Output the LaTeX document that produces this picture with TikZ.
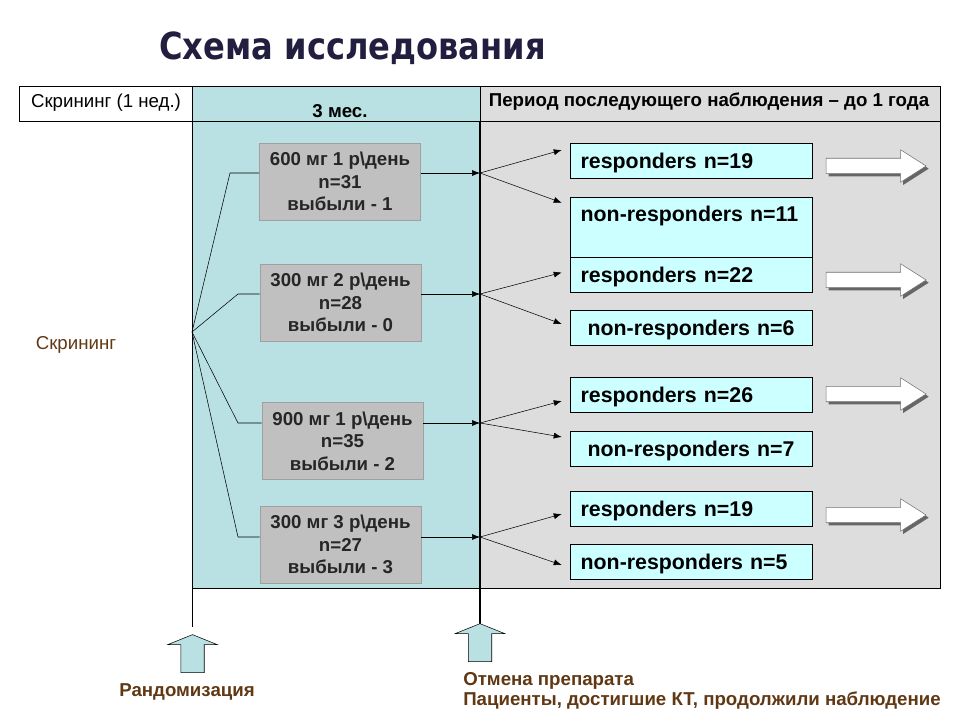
\documentclass[tikz,border=0pt]{standalone}
\usepackage{fontspec}
\setmainfont{Liberation Sans}
\newfontfamily\titlefont{DejaVu Sans}
\usetikzlibrary{arrows.meta,shapes.arrows,shadows,positioning,calc}

\definecolor{tealbg}{RGB}{185,224,227}
\definecolor{panelgray}{RGB}{221,221,221}
\definecolor{dosegray}{RGB}{192,192,192}
\definecolor{doseline}{RGB}{160,160,160}
\definecolor{cyanlt}{RGB}{204,255,255}
\definecolor{brownish}{RGB}{96,56,20}
\definecolor{titleblue}{RGB}{34,30,63}

\begin{document}
\begin{tikzpicture}[x=0.75pt,y=-0.75pt,
	dose/.style={draw=doseline, fill=dosegray, minimum width=120.75pt, minimum height=57.75pt, inner sep=0pt, align=center, text=black!85, font=\fontsize{14}{17}\selectfont\bfseries},
	resp/.style={draw, fill=cyanlt, minimum height=26.25pt, text width=165.5pt, text depth=0pt, inner xsep=8pt, inner ysep=0pt, align=left, font=\fontsize{16}{19.2}\selectfont\bfseries},
	link/.style={-{Latex[length=6pt,width=4.5pt]}},
	fwd/.style={single arrow, draw=black!55, fill=white, minimum height=75pt, inner sep=5.6pt, single arrow head extend=6.4pt, single arrow tip angle=65, drop shadow={shadow xshift=2pt, shadow yshift=-2pt, fill=black!60, opacity=1}},
	uparrow/.style={single arrow, shape border rotate=90, draw, fill=tealbg, minimum height=28.5pt, inner sep=8.6pt, single arrow head extend=9.75pt, single arrow tip angle=136},
	note/.style={text=brownish, font=\fontsize{14}{15}\selectfont\bfseries, inner sep=0pt}]
	%%%%% START %%%%%
	\useasboundingbox (0,0) rectangle (960,720);
	
	\node[anchor=base, text=titleblue, font=\titlefont\fontsize{28}{30}\selectfont\bfseries] (title) at (352.5,60) {\scalebox{0.86}[1]{Схема исследования}};
	
	% backgrounds
	\fill[tealbg] (192,86) rectangle (480,588);
	\fill[panelgray] (480,86) rectangle (940,588);
	\draw (19,86) rectangle (940,121);
	\draw (192,121) rectangle (940,588);
	\draw (192,86) -- (192,627);
	\draw (480,86) -- (480,121);
	\draw[line width=1.5pt] (480,121) -- (480,624);
	
	% header
	\node[font=\fontsize{14}{17}\selectfont] (scrhead) at (106,103) {Скрининг (1 нед.)};
	\node[font=\fontsize{14}{17}\selectfont\bfseries] (months) at (340,111) {3 мес.};
	\node[font=\fontsize{14}{17}\selectfont\bfseries] (follow) at (709,102) {Период последующего наблюдения – до 1 года};
	
	\node[text=brownish, font=\fontsize{14}{17}\selectfont] (scr) at (76,345) {Скрининг};
	
	% dose groups
	\node[dose] (g1) at (340,181.5) {600 мг 1 р\textbackslash день\\n=31\\выбыли - 1};
	\node[dose] (g2) at (340.5,302.5) {300 мг 2 р\textbackslash день\\n=28\\выбыли - 0};
	\node[dose] (g3) at (342.5,441) {900 мг 1 р\textbackslash день\\n=35\\выбыли - 2};
	\node[dose] (g4) at (340.5,544.5) {300 мг 3 р\textbackslash день\\n=27\\выбыли - 3};
	
	% outcomes
	\node[resp] (r1) at (691,161) {responders n=19};
	\node[resp, minimum height=45pt, text depth=20pt] (n1) at (691,227) {non-responders n=11};
	\node[resp] (r2) at (691,274.5) {responders n=22};
	\node[resp, align=center] (n2) at (691,327.5) {non-responders n=6};
	\node[resp] (r3) at (691,395) {responders n=26};
	\node[resp, align=center] (n3) at (691,448.5) {non-responders n=7};
	\node[resp] (r4) at (691,508.5) {responders n=19};
	\node[resp] (n4) at (691,562) {non-responders n=5};
	
	% randomisation fan
	\coordinate (rand) at (192,332);
	\coordinate (e1) at (230,173);
	\coordinate (e2) at (238,294);
	\coordinate (e3) at (238,423);
	\coordinate (e4) at (238,537);
	\coordinate (j1) at (480,173);
	\coordinate (j2) at (480,294);
	\coordinate (j3) at (480,423);
	\coordinate (j4) at (480,537);
	
	\draw (rand) -- (e1) -- (e1 -| g1.west);
	\draw (rand) -- (e2) -- (e2 -| g2.west);
	\draw (rand) -- (e3) -- (e3 -| g3.west);
	\draw (rand) -- (e4) -- (e4 -| g4.west);
	
	\draw[link] (e1 -| g1.east) -- (j1);
	\draw[link] (e2 -| g2.east) -- (j2);
	\draw[link] (e3 -| g3.east) -- (j3);
	\draw[link] (e4 -| g4.east) -- (j4);
	
	\draw[link] (j1) -- ([shift={(-8,-11)}]r1.west);
	\draw[link] (j1) -- ([shift={(-8,6)}]n1.north west);
	\draw[link] (j2) -- ([shift={(-8,-2)}]r2.west);
	\draw[link] (j2) -- ([shift={(-8,-3.5)}]n2.west);
	\draw[link] (j3) -- ([shift={(-8,6)}]r3.west);
	\draw[link] (j3) -- ([shift={(-8,-11.5)}]n3.west);
	\draw[link] (j4) -- ([shift={(-8,5.5)}]r4.west);
	\draw[link] (j4) -- ([shift={(-8,3)}]n4.west);
	
	% onward arrows
	\node[fwd] (f1) at (870,166) {};
	\node[fwd] (f2) at (870,280) {};
	\node[fwd] (f3) at (870,394) {};
	\node[fwd] (f4) at (870,515) {};
	
	% time points
	\node[uparrow] (randarrow) at (192.5,656) {};
	\node[uparrow] (stoparrow) at (480,645) {};
	
	\node[note] (randtext) at (187,692) {Рандомизация};
	\node[note, anchor=west, align=left] (stoptext) at (463,691) {Отмена препарата\\Пациенты, достигшие КТ, продолжили наблюдение};
	
	%%%%% END %%%%%
\end{tikzpicture}
\end{document}
